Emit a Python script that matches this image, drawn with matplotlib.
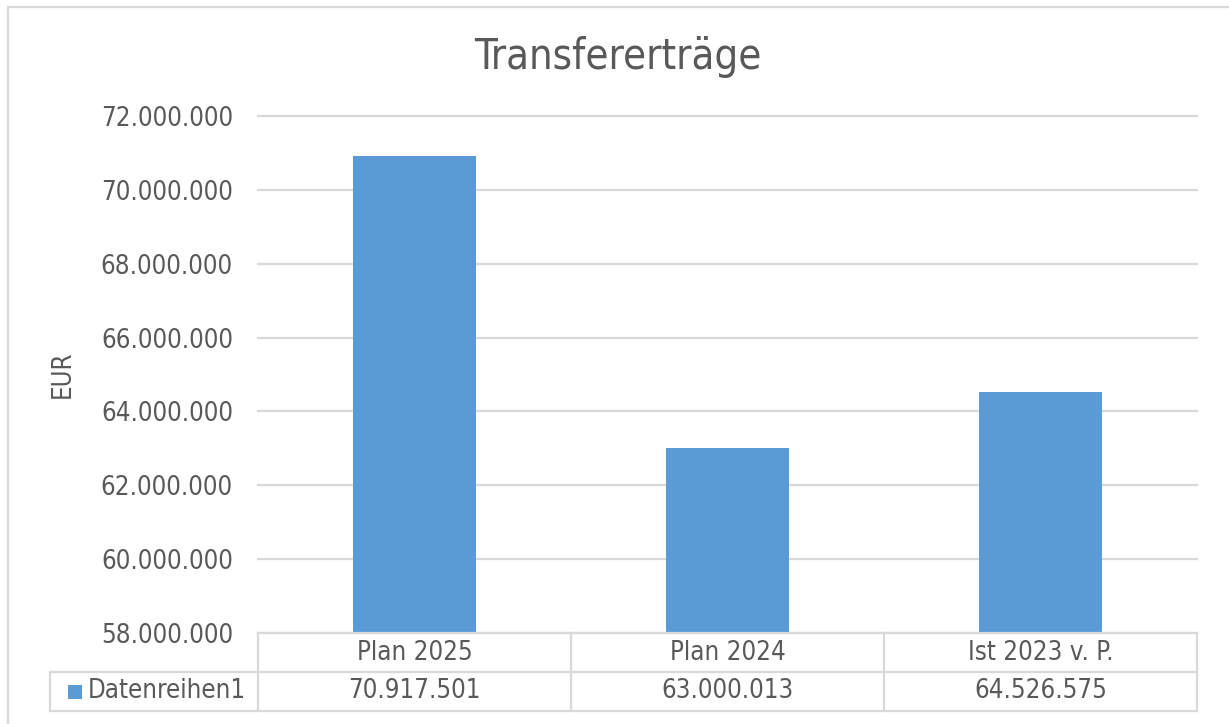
import matplotlib
matplotlib.use("Agg")
from matplotlib import pyplot as plt
from matplotlib.patches import Rectangle
import matplotlib.transforms as mtransforms

categories = ["Plan 2025", "Plan 2024", "Ist 2023 v. P."]
values = [70917501, 63000013, 64526575]
series_name = "Datenreihen1"
yticks = [58000000, 60000000, 62000000, 64000000, 66000000, 68000000, 70000000, 72000000]

bar_color = "#5B9BD5"
text_color = "#595959"
line_color = "#D9D9D9"

plt.rcParams['font.family'] = ['DejaVu Sans']
plt.rcParams['font.stretch'] = 'condensed'


def de_fmt(v):
    return "{:,}".format(int(v)).replace(",", ".")


W, H = 1229, 724
fig = plt.figure(figsize=(W / 100, H / 100), dpi=100)

# outer chart border
fig.patches.append(Rectangle((8 / W, -0.1), 1.2, 1 - 7 / H + 0.1, transform=fig.transFigure,
                             fill=False, edgecolor=line_color, linewidth=1.6))

left, right, top, bottom = 258, 1197, 116, 633
ax = fig.add_axes([left / W, 1 - bottom / H, (right - left) / W, (bottom - top) / H])

xs = list(range(len(categories)))
ax.bar(xs, values, width=0.396, color=bar_color, zorder=2)
ax.set_xlim(-0.5, len(categories) - 0.5)
ax.set_ylim(yticks[0], yticks[-1])
ax.set_yticks(yticks)
ax.set_yticklabels([de_fmt(v) for v in yticks])
ax.set_xticks([])
ax.tick_params(axis='y', length=0, pad=18, labelsize=18.5, labelcolor=text_color)
ax.yaxis.grid(True, color=line_color, linewidth=1.6, zorder=0)
for gl in ax.get_ygridlines():
    gl.set_clip_on(False)
for s in ax.spines.values():
    s.set_visible(False)

ax.set_ylabel("EUR", fontsize=18.5, color=text_color, labelpad=18)
fig.text(618 / W, 1 - 57 / H, "Transfererträge", ha='center', va='center',
         fontsize=30, color=text_color)

# data table below the plot
plot_h = bottom - top
row_h = 39 / plot_h
label_left = (50 - left) / (right - left)
tr = mtransforms.blended_transform_factory(ax.transData, ax.transAxes)
lkw = dict(color=line_color, linewidth=1.6, clip_on=False, transform=ax.transAxes)

ax.plot([0, 1], [0, 0], **lkw)
ax.plot([label_left, 1], [-row_h, -row_h], **lkw)
ax.plot([label_left, 1], [-2 * row_h, -2 * row_h], **lkw)
ax.plot([label_left, label_left], [-row_h, -2 * row_h], **lkw)
for i in range(len(categories) + 1):
    xf = i / len(categories)
    ax.plot([xf, xf], [0, -2 * row_h], **lkw)

for x, cat, v in zip(xs, categories, values):
    ax.text(x, -0.5 * row_h, cat, transform=tr, ha='center', va='center',
            fontsize=18.5, color=text_color)
    ax.text(x, -1.5 * row_h, de_fmt(v), transform=tr, ha='center', va='center',
            fontsize=18.5, color=text_color)

# legend key + series name
key_x = (68 - left) / (right - left)
key_w = 14 / (right - left)
key_h = 14 / plot_h
ax.add_patch(Rectangle((key_x, -1.5 * row_h - key_h / 2), key_w, key_h, transform=ax.transAxes,
                       facecolor=bar_color, edgecolor='none', clip_on=False))
ax.text((88 - left) / (right - left), -1.5 * row_h, series_name, transform=ax.transAxes,
        ha='left', va='center', fontsize=18.5, color=text_color)

fig.savefig("out.png", dpi=100)
